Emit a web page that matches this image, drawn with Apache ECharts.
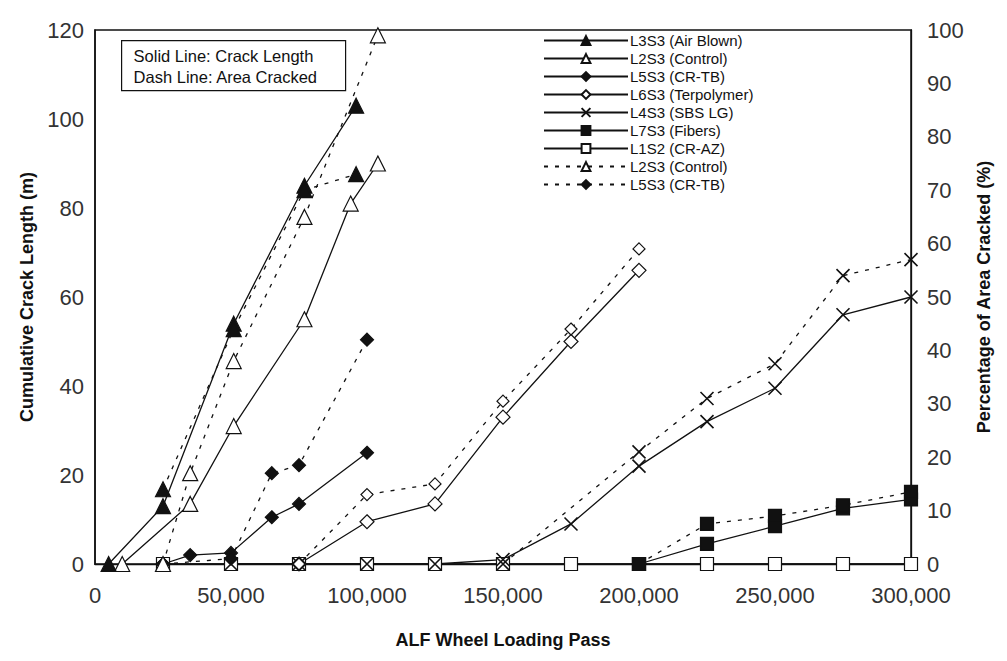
<!DOCTYPE html>
<html>
<head>
<meta charset="utf-8">
<script src="https://cdn.jsdelivr.net/npm/echarts@6/dist/echarts.min.js"></script>
<style>
  html, body { margin: 0; background: #fff; }
  #chart { width: 1007px; height: 661px; }
</style>
</head>
<body>
<div id="chart"></div>
<script>
// x = ALF wheel loading passes
// solid series -> cumulative crack length (m), left axis
// dashed series -> area cracked (%), right axis
var l3s3Crack = [[5000, 0], [25000, 13], [51000, 54], [77000, 85], [96000, 103]];
var l2s3Crack = [[10000, 0], [35000, 13.5], [51000, 31], [77000, 55], [94000, 81], [104000, 90]];
var l5s3Crack = [[25000, 0], [35000, 2], [50000, 2.5], [65000, 10.5], [75000, 13.5], [100000, 25]];
var l6s3Crack = [[75000, 0], [100000, 9.5], [125000, 13.5], [150000, 33], [175000, 50], [200000, 66]];
var l4s3Crack = [[50000, 0], [75000, 0], [100000, 0], [125000, 0], [150000, 1], [175000, 9], [200000, 22], [225000, 32], [250000, 39.5], [275000, 56], [300000, 60]];
var l7s3Crack = [[200000, 0], [225000, 4.5], [250000, 8.5], [275000, 12.5], [300000, 14.5]];
var l1s2Crack = [[25000, 0], [50000, 0], [75000, 0], [100000, 0], [125000, 0], [150000, 0], [175000, 0], [200000, 0], [225000, 0], [250000, 0], [275000, 0], [300000, 0]];

var l3s3Area = [[25000, 14], [51000, 44], [77000, 70], [96000, 73]];
var l2s3Area = [[25000, 0], [35000, 17], [51000, 38], [77000, 65], [104000, 99]];
var l5s3Area = [[25000, 0], [50000, 1], [65000, 17], [75000, 18.5], [100000, 42]];
var l6s3Area = [[75000, 0], [100000, 13], [125000, 15], [150000, 30.5], [175000, 44], [200000, 59]];
var l4s3Area = [[150000, 0], [200000, 21], [225000, 31], [250000, 37.5], [275000, 54], [300000, 57]];
var l7s3Area = [[200000, 0], [225000, 7.5], [250000, 9], [275000, 11], [300000, 13.5]];

var legendNames = ['L3S3 (Air Blown)', 'L2S3 (Control)', 'L5S3 (CR-TB)', 'L6S3 (Terpolymer)',
  'L4S3 (SBS LG)', 'L7S3 (Fibers)', 'L1S2 (CR-AZ)', 'L2S3 (Control) ', 'L5S3 (CR-TB) '];

var INK = '#111';
var xMark = 'path://M0,0L10,10M10,0L0,10';

function mk(name, data, symbol, filled, dashed, yIdx, size) {
  return {
    name: name,
    type: 'line',
    yAxisIndex: yIdx,
    data: data,
    symbol: symbol,
    symbolSize: size || 13,
    showAllSymbol: true,
    lineStyle: { color: INK, width: 1.3, type: dashed ? [4, 7] : 'solid' },
    itemStyle: {
      color: filled ? INK : '#fff',
      borderColor: INK,
      borderWidth: symbol === xMark ? 1.6 : 1.2
    },
    emphasis: { disabled: true },
    animation: false
  };
}

// drawing order: lower series first so crosses sit on top of the squares
var series = [
  mk('L1S2 (CR-AZ)', l1s2Crack, 'rect', false, false, 0, 13),
  mk('L7S3 (Fibers)', l7s3Crack, 'rect', true, false, 0, 13),
  mk('L7S3 area', l7s3Area, 'rect', true, true, 1, 13),
  mk('L4S3 (SBS LG)', l4s3Crack, xMark, false, false, 0, 13),
  mk('L4S3 area', l4s3Area, xMark, false, true, 1, 13),
  mk('L6S3 (Terpolymer)', l6s3Crack, 'diamond', false, false, 0, 14),
  mk('L6S3 area', l6s3Area, 'diamond', false, true, 1, 12),
  mk('L5S3 (CR-TB)', l5s3Crack, 'diamond', true, false, 0, 13),
  mk('L5S3 (CR-TB) ', l5s3Area, 'diamond', true, true, 1, 13),
  mk('L2S3 (Control)', l2s3Crack, 'triangle', false, false, 0, 15),
  mk('L2S3 (Control) ', l2s3Area, 'triangle', false, true, 1, 15),
  mk('L3S3 (Air Blown)', l3s3Crack, 'triangle', true, false, 0, 15),
  mk('L3S3 area', l3s3Area, 'triangle', true, true, 1, 15)
];

var font = 'Liberation Sans';
var chart = echarts.init(document.getElementById('chart'), null, { renderer: 'svg' });

chart.setOption({
  backgroundColor: '#fff',
  textStyle: { fontFamily: font },
  grid: {
    left: 95, right: 96, top: 30, bottom: 97,
    show: true, borderColor: INK, borderWidth: 1.5, backgroundColor: 'transparent'
  },
  legend: {
    data: legendNames,
    orient: 'vertical',
    left: 541, top: 31,
    itemWidth: 84, itemHeight: 11, itemGap: 3,
    textStyle: { fontFamily: font, fontSize: 15, color: INK, padding: [0, 0, 0, -3] },
    backgroundColor: '#fff',
    padding: 2,
    selectedMode: false
  },
  xAxis: {
    type: 'value',
    min: 0, max: 300000, interval: 50000,
    name: 'ALF Wheel Loading Pass',
    nameLocation: 'middle',
    nameGap: 67,
    nameTextStyle: { fontFamily: font, fontSize: 18, fontWeight: 'bold', color: INK },
    axisLine: { show: true, lineStyle: { color: INK, width: 1.3 } },
    axisTick: { show: false },
    splitLine: { show: false },
    axisLabel: {
      margin: 20, fontSize: 22, color: '#333', fontFamily: font,
      formatter: function (v) { return v.toLocaleString('en-US'); }
    }
  },
  yAxis: [
    {
      type: 'value', min: 0, max: 120, interval: 20,
      name: 'Cumulative Crack Length (m)',
      nameLocation: 'middle', nameRotate: 90, nameGap: 58,
      nameTextStyle: { fontFamily: font, fontSize: 18, fontWeight: 'bold', color: INK },
      axisLine: { show: true, lineStyle: { color: INK, width: 1.5 } },
      axisTick: { show: false },
      splitLine: { show: false },
      axisLabel: { margin: 11, fontSize: 22, color: '#333', fontFamily: font }
    },
    {
      type: 'value', min: 0, max: 100, interval: 10,
      position: 'right',
      name: 'Percentage of Area Cracked (%)',
      nameLocation: 'middle', nameRotate: 90, nameGap: 62,
      nameTextStyle: { fontFamily: font, fontSize: 18, fontWeight: 'bold', color: INK },
      axisLine: { show: true, lineStyle: { color: INK, width: 1.3 } },
      axisTick: { show: false },
      splitLine: { show: false },
      axisLabel: { margin: 16, fontSize: 22, color: '#333', fontFamily: font }
    }
  ],
  graphic: [
    {
      type: 'group', left: 121, top: 40,
      children: [
        { type: 'rect', shape: { x: 0, y: 0, width: 224, height: 50 },
          style: { fill: '#fff', stroke: INK, lineWidth: 1.2 } },
        { type: 'text', x: 12, y: 7,
          style: { text: 'Solid Line: Crack Length', fontFamily: font, fontSize: 16.5, fill: INK } },
        { type: 'text', x: 12, y: 28,
          style: { text: 'Dash Line: Area Cracked', fontFamily: font, fontSize: 16.5, fill: INK } }
      ]
    }
  ],
  series: series
});
</script>
</body>
</html>
